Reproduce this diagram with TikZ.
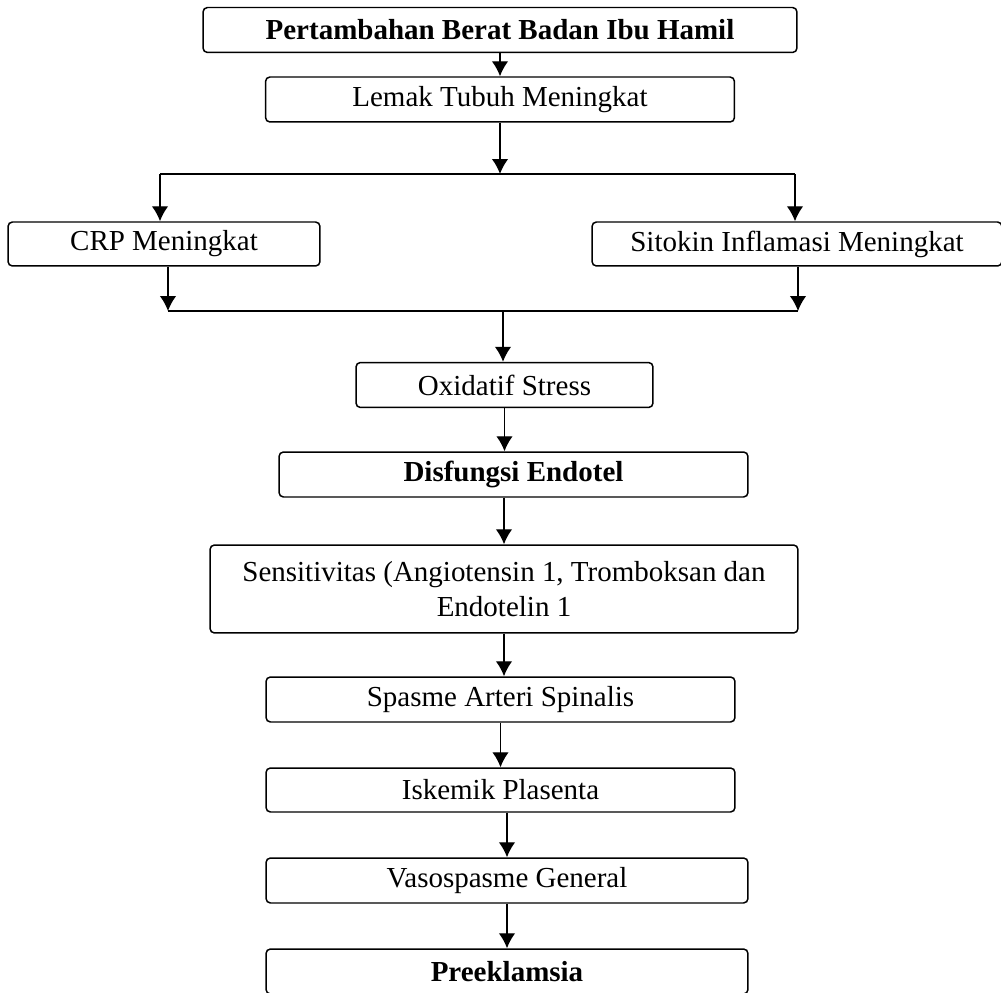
\documentclass[tikz,border=0pt]{standalone}
\usepackage{fontspec}
\setmainfont{Liberation Serif}
\usetikzlibrary{arrows.meta}

\begin{document}
\begin{tikzpicture}[x=0.02cm,y=-0.02cm]
\tikzset{>={Latex[width=3.3mm,length=3mm]}}
\tikzstyle{box} =[draw,rounded corners=2.5pt,line width=0.85pt,inner sep=0pt,minimum height=0.9cm,font=\fontsize{16.5}{20}\selectfont]
\tikzstyle{boldbox} =[box,font=\fontsize{16.5}{20}\selectfont\bfseries]

\useasboundingbox (0,0) rectangle (1001,993);

\node[boldbox,minimum width=11.88cm](berat) at (500,30){Pertambahan Berat Badan Ibu Hamil};
\node[box,minimum width=9.38cm](lemak) at (500,99.5){Lemak Tubuh Meningkat};
\node[box,minimum width=6.24cm,minimum height=0.88cm](crp) at (164,244){CRP Meningkat};
\node[box,minimum width=8.2cm,minimum height=0.88cm](sitokin) at (797,244){Sitokin Inflamasi Meningkat};
\node[box,minimum width=5.94cm](oksidatif) at (504.5,385){Oxidatif Stress};
\node[boldbox,minimum width=9.38cm](disfungsi) at (513.5,474.5){Disfungsi Endotel};
\node[box,minimum width=11.76cm,minimum height=1.76cm,align=center](sensitif) at (504,589){Sensitivitas (Angiotensin 1, Tromboksan dan\\Endotelin 1};
\node[box,minimum width=9.38cm](spasme) at (500.5,699.5){Spasme Arteri Spinalis};
\node[box,minimum width=9.38cm,minimum height=0.88cm](iskemik) at (500.5,790){Iskemik Plasenta};
\node[box,minimum width=9.64cm](vaso) at (507,880.5){Vasospasme General};
\node[boldbox,minimum width=9.64cm](pre) at (507,971.5){Preeklamsia};

% cabang atas
\coordinate (cabkiri) at (160,174);
\coordinate (cabtengah) at (500,174);
\coordinate (cabkanan) at (795,174);
% gabung bawah
\coordinate (gabkiri) at (168,311);
\coordinate (gabtengah) at (503,311);
\coordinate (gabkanan) at (798,311);

\draw [->,thick] (berat) to (lemak);
\draw [->,thick] (lemak) to (cabtengah);
\draw [thick] (cabkiri) to (cabkanan);
\draw [->,thick] (cabkiri) to (cabkiri |- crp.north);
\draw [->,thick] (cabkanan) to (cabkanan |- sitokin.north);
\draw [->,thick] (crp.south -| gabkiri) to (gabkiri);
\draw [->,thick] (sitokin.south -| gabkanan) to (gabkanan);
\draw [thick] (gabkiri) to (gabkanan);
\draw [->,thick] (gabtengah) to (gabtengah |- oksidatif.north);
\draw [->,thick] (oksidatif) to (oksidatif |- disfungsi.north);
\draw [->,thick] (disfungsi.south -| sensitif) to (sensitif);
\draw [->,thick] (sensitif) to (sensitif |- spasme.north);
\draw [->,thick] (spasme) to (iskemik);
\draw [->,thick] (iskemik.south -| vaso) to (vaso);
\draw [->,thick] (vaso) to (pre);
\end{tikzpicture}
\end{document}
